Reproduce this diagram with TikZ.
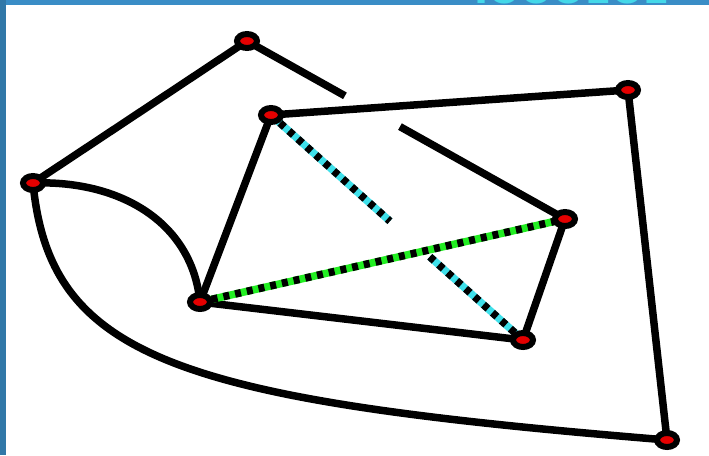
\documentclass[tikz,border=0pt]{standalone}
\usepackage{fontspec}
\setsansfont{DejaVu Sans}
\usetikzlibrary{shapes.geometric,calc,backgrounds}
\definecolor{frameblue}{HTML}{3A8DC6}
\definecolor{titlecyan}{HTML}{44D8E8}
\definecolor{dashcyan}{HTML}{3FE0EA}
\definecolor{dashgreen}{HTML}{22EE22}
\tikzset{
  vertex/.style={ellipse,draw=black,fill=red!90!black,line width=6pt,minimum width=20pt,minimum height=14pt,inner sep=0pt},
  edge/.style={line width=7.5pt,black},
  cyanedge/.style={line width=7.5pt,dashcyan},
  greenedge/.style={line width=7.5pt,dashgreen},
  dashover/.style={line width=7.5pt,black,dash pattern=on 6pt off 6pt}
}
\begin{document}
\begin{tikzpicture}[x=1pt,y=-1pt]
\useasboundingbox (0,0) rectangle (709,455);
% vertices
\node[vertex] (A) at (247,41) {};
\node[vertex] (B) at (33,183) {};
\node[vertex] (C) at (271,115) {};
\node[vertex] (D) at (628,90) {};
\node[vertex] (E) at (565,219) {};
\node[vertex] (F) at (200,302) {};
\node[vertex] (G) at (523,340) {};
\node[vertex] (H) at (667,440) {};
\coordinate (ae1) at ($(A.center)!0.308!(E.center)$);
\coordinate (ae2) at ($(A.center)!0.481!(E.center)$);
\coordinate (cg1) at ($(C.center)!0.472!(G.center)$);
\coordinate (cg2) at ($(C.center)!0.63!(G.center)$);
\begin{pgfonlayer}{background}
\fill[white] (0,0) rectangle (709,455);
\draw[edge] (A.center) -- (B.center);
\draw[edge] (A.center) -- (ae1);
\draw[edge] (ae2) -- (E.center);
\draw[edge] (C.center) -- (D.center);
\draw[edge] (D.center) -- (H.center);
\draw[edge] (B.center) .. controls (120,180) and (192,222) .. (F.center);
\draw[edge] (B.center) .. controls (50,360) and (180,400) .. (H.center);
\draw[edge] (C.center) -- (F.center);
\draw[edge] (F.center) -- (G.center);
\draw[edge] (G.center) -- (E.center);
\draw[greenedge] (F.center) -- (E.center);
\draw[dashover] (F.center) -- (E.center);
\draw[cyanedge] (C.center) -- (cg1);
\draw[dashover] (C.center) -- (cg1);
\draw[cyanedge] (cg2) -- (G.center);
\draw[dashover] (cg2) -- (G.center);
\end{pgfonlayer}
% frame
\fill[frameblue] (0,0) rectangle (709,5);
\fill[frameblue!85!black] (0,0) rectangle (6,455);
% clipped title
\begin{scope}
\clip (470,0) rectangle (709,5);
\node[anchor=base west,text=titlecyan,font=\sffamily\bfseries\fontsize{38}{40}\selectfont,inner sep=0pt] (title) at (474,4) {IOOOEOE};
\end{scope}
\end{tikzpicture}
\end{document}
